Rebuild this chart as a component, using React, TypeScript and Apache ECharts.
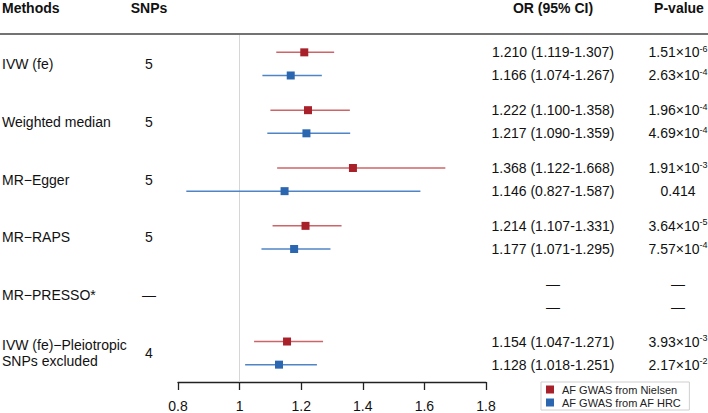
import React, { useEffect, useRef } from "react";
import * as echarts from "echarts";

const methods = [
  "IVW (fe)",
  "Weighted median",
  "MR−Egger",
  "MR−RAPS",
  "MR−PRESSO*",
  "IVW (fe)−Pleiotropic\nSNPs excluded",
];
const snps = ["5", "5", "5", "5", "—", "4"];

const nielsenOR = [1.21, 1.222, 1.368, 1.214, null, 1.154];
const nielsenLow = [1.119, 1.1, 1.122, 1.107, null, 1.047];
const nielsenHigh = [1.307, 1.358, 1.668, 1.331, null, 1.271];
const nielsenPMant = ["1.51", "1.96", "1.91", "3.64", null, "3.93"];
const nielsenPExp = ["-6", "-4", "-3", "-5", null, "-3"];

const hrcOR = [1.166, 1.217, 1.146, 1.177, null, 1.128];
const hrcLow = [1.074, 1.09, 0.827, 1.071, null, 1.018];
const hrcHigh = [1.267, 1.359, 1.587, 1.295, null, 1.251];
const hrcPMant = ["2.63", "4.69", "0.414", "7.57", null, "2.17"];
const hrcPExp = ["-4", "-4", null, "-4", null, "-2"];

const xTicks = [0.8, 1, 1.2, 1.4, 1.6, 1.8];
const seriesNames = ["AF GWAS from Nielsen", "AF GWAS from AF HRC"];

const FONT = "'Liberation Sans', Arial, Helvetica, sans-serif";
const RED = "#a8202a";
const RED_LINE = "#cc6468";
const BLUE = "#2b66b1";
const BLUE_LINE = "#4f84c6";
const OFFSET = 0.2;

function buildData(or: (number | null)[], lo: (number | null)[], hi: (number | null)[], off: number) {
  const out: number[][] = [];
  or.forEach((v, i) => {
    if (v != null) out.push([i + off, v, lo[i] as number, hi[i] as number]);
  });
  return out;
}

function makeRender(lineColor: string, markColor: string) {
  return (params: any, api: any) => {
    const yv = api.value(0);
    const p = api.coord([api.value(1), yv]);
    const pl = api.coord([api.value(2), yv]);
    const ph = api.coord([api.value(3), yv]);
    return {
      type: "group",
      children: [
        {
          type: "line",
          shape: { x1: pl[0], y1: p[1], x2: ph[0], y2: p[1] },
          style: { stroke: lineColor, lineWidth: 1.5 },
        },
        {
          type: "rect",
          shape: { x: p[0] - 4, y: p[1] - 4, width: 8, height: 8 },
          style: { fill: markColor },
        },
      ],
    };
  };
}

export default function App() {
  const ref = useRef<HTMLDivElement>(null);
  useEffect(() => {
    if (!ref.current) return;
    const chart = echarts.init(ref.current, null, { renderer: "svg" });
    chart.setOption({
      animation: false,
      textStyle: { fontFamily: FONT },
      grid: { left: 178, right: 222, top: 35, bottom: 30, containLabel: false },
      xAxis: {
        type: "value",
        min: xTicks[0],
        max: xTicks[xTicks.length - 1],
        interval: 0.2,
        axisLine: { show: true, onZero: false, lineStyle: { color: "#222", width: 1.3 } },
        axisTick: { show: true, length: 8, lineStyle: { color: "#222", width: 1.3 } },
        splitLine: { show: false },
        axisLabel: { fontSize: 14, color: "#111", margin: 17, fontFamily: FONT },
      },
      yAxis: { type: "value", min: -0.5, max: 5.5, inverse: true, show: false },
      legend: {
        left: 541,
        top: 382,
        orient: "vertical",
        data: seriesNames,
        icon: "rect",
        itemWidth: 8,
        itemHeight: 8,
        itemGap: 2,
        padding: [2, 8, 2, 5],
        borderColor: "#cfcfcf",
        borderWidth: 1,
        selectedMode: false,
        textStyle: { fontSize: 11, color: "#222", fontFamily: FONT, padding: [0, 0, 0, 3] },
      },
      series: [
        {
          name: seriesNames[0],
          type: "custom",
          itemStyle: { color: RED },
          encode: { x: [1, 2, 3], y: 0 },
          data: buildData(nielsenOR, nielsenLow, nielsenHigh, -OFFSET),
          renderItem: makeRender(RED_LINE, RED),
          z: 3,
          markLine: {
            silent: true,
            symbol: ["none", "none"],
            label: { show: false },
            lineStyle: { color: "#d6d6d6", type: "solid", width: 1 },
            data: [{ xAxis: 1 }],
            z: 1,
          },
        },
        {
          name: seriesNames[1],
          type: "custom",
          itemStyle: { color: BLUE },
          encode: { x: [1, 2, 3], y: 0 },
          data: buildData(hrcOR, hrcLow, hrcHigh, OFFSET),
          renderItem: makeRender(BLUE_LINE, BLUE),
          z: 3,
        },
      ],
    });

    const py = (v: number) => (chart.convertToPixel({ gridIndex: 0 }, [1, v]) as number[])[1];
    const base = { fontFamily: FONT, fontSize: 14, fill: "#111" };
    const g: any[] = [];
    const hdr = (text: string, x: number, align: string) =>
      g.push({
        type: "text",
        x,
        y: 8,
        style: { ...base, text, fontWeight: "bold", textAlign: align, textVerticalAlign: "middle" },
      });
    hdr("Methods", 2, "left");
    hdr("SNPs", 149, "center");
    hdr("OR (95% CI)", 553, "center");
    hdr("P-value", 679, "center");
    g.push({
      type: "line",
      shape: { x1: 0, y1: 34, x2: 708, y2: 34 },
      style: { stroke: "#444", lineWidth: 1.5 },
    });

    const orText = (or: number | null, lo: number | null, hi: number | null) =>
      or == null ? "—" : `${or.toFixed(3)} (${(lo as number).toFixed(3)}-${(hi as number).toFixed(3)})`;
    const pText = (m: string | null, e: string | null) =>
      m == null ? "{n|—}" : e == null ? `{n|${m}}` : `{n|${m}×10}{s|${e}}`;

    methods.forEach((m, i) => {
      const yc = py(i);
      g.push({
        type: "text",
        x: 2,
        y: yc,
        style: { ...base, text: m, textAlign: "left", textVerticalAlign: "middle", lineHeight: 16 },
      });
      g.push({
        type: "text",
        x: 149,
        y: yc,
        style: { ...base, text: snps[i], textAlign: "center", textVerticalAlign: "middle" },
      });
      const rows = [
        { y: py(i - OFFSET), or: nielsenOR[i], lo: nielsenLow[i], hi: nielsenHigh[i], pm: nielsenPMant[i], pe: nielsenPExp[i] },
        { y: py(i + OFFSET), or: hrcOR[i], lo: hrcLow[i], hi: hrcHigh[i], pm: hrcPMant[i], pe: hrcPExp[i] },
      ];
      rows.forEach((r) => {
        g.push({
          type: "text",
          x: 553,
          y: r.y,
          style: { ...base, text: orText(r.or, r.lo, r.hi), textAlign: "center", textVerticalAlign: "middle" },
        });
        g.push({
          type: "text",
          x: 678,
          y: r.y,
          style: {
            ...base,
            text: pText(r.pm, r.pe),
            textAlign: "center",
            textVerticalAlign: "middle",
            rich: {
              n: { fontFamily: FONT, fontSize: 14, fill: "#111", lineHeight: 16 },
              s: { fontFamily: FONT, fontSize: 9, fill: "#111", lineHeight: 10, verticalAlign: "top" },
            },
          },
        });
      });
    });
    chart.setOption({ graphic: g });
    return () => chart.dispose();
  }, []);
  return (
    <div
      ref={ref}
      style={{ position: "absolute", left: 0, top: 0, width: 708, height: 413 }}
    />
  );
}
